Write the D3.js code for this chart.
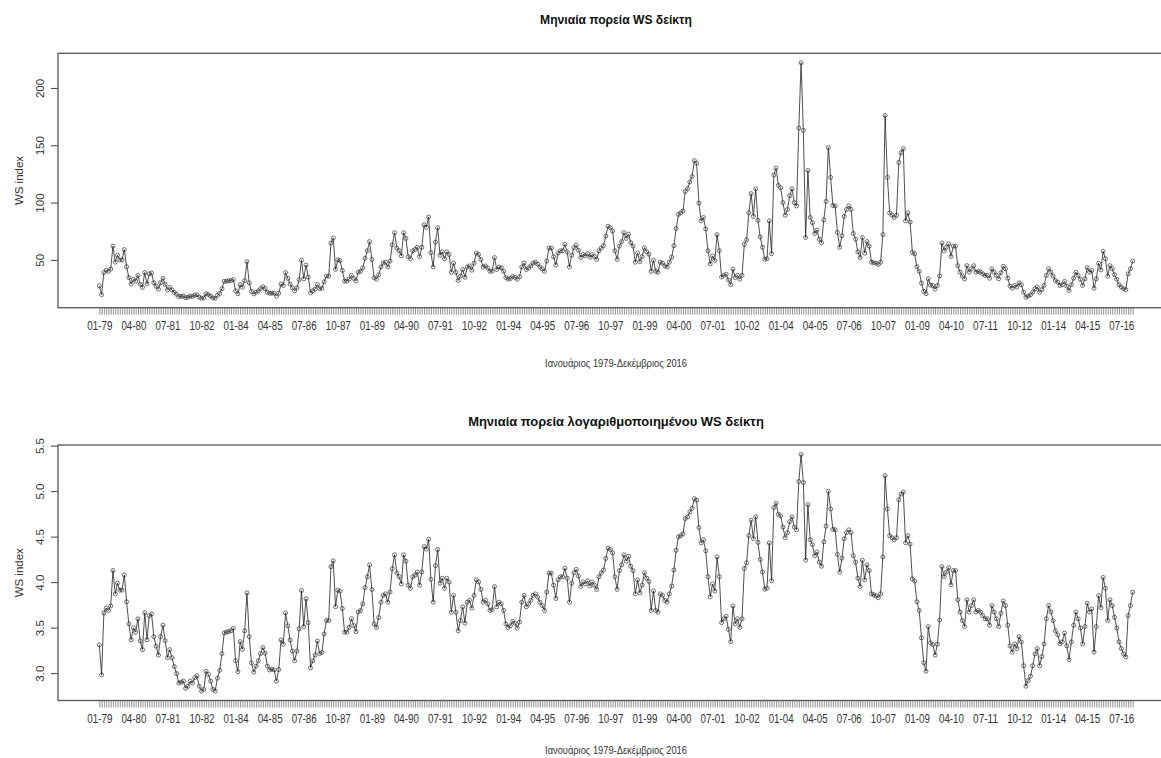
<!DOCTYPE html>
<html>
<head>
<meta charset="utf-8">
<script src="https://cdn.jsdelivr.net/npm/d3@7/dist/d3.min.js"></script>
<style>
  html, body { margin: 0; padding: 0; background: #fff; }
  svg { display: block; }
  text { font-family: "Liberation Sans", Arial, Helvetica, sans-serif; }
</style>
</head>
<body>
<svg id="chart" width="1161" height="758"></svg>
<script>
// Monthly WS index, January 1979 - December 2016 (one array per year)
const ws1979 = [27.4, 19.7, 39, 41, 40, 42, 62, 48, 54, 50, 50, 59];
const ws1980 = [44, 34.5, 29, 33, 31.5, 36.5, 28.6, 26, 39, 29, 37.8, 38.5];
const ws1981 = [30, 27, 24.5, 30, 34, 28.7, 23.8, 26, 23.8, 21.6, 20, 18];
const ws1982 = [18.2, 18.4, 17, 17.4, 18.4, 18, 19.1, 19.5, 17.4, 16.5, 16.8, 20.5];
const ws1983 = [19.8, 18.4, 16.8, 16.5, 19, 20.7, 24.9, 31.3, 31.5, 31.7, 32, 32.9];
const ws1984 = [23, 20.4, 28.4, 26.1, 32, 48.5, 30, 22.5, 20.3, 21.7, 23, 24.9];
const ws1985 = [26.6, 25, 21.7, 20.8, 21, 20.8, 18.4, 20.9, 28.9, 27.6, 38.9, 33.8];
const ws1986 = [28.9, 25.6, 23, 25.6, 32.7, 49.8, 33.5, 45.5, 35, 21.3, 23, 24.5];
const ws1987 = [28.6, 24.9, 25.2, 30.9, 35.8, 35.8, 64.7, 69, 41.7, 50, 49.4, 40.8];
const ws1988 = [31.5, 31.5, 33.2, 36.5, 33.9, 31.7, 39.3, 40, 43, 51.4, 57.9, 66];
const ws1989 = [50.4, 34.5, 33.2, 37, 43.8, 47.2, 48, 43.8, 49, 63.3, 73.7, 60.3];
const ws1990 = [58, 53.5, 73.7, 68.7, 52.8, 51, 57.9, 59, 61, 52.8, 61, 80.6];
const ws1991 = [78.5, 87.4, 56.3, 43.8, 65.5, 78.1, 54, 57, 51, 57, 54.7, 39.2];
const ws1992 = [47.2, 39.2, 32, 35.8, 41.6, 34.8, 43.8, 44.7, 41, 47.2, 56, 54.7];
const ws1993 = [50.4, 43.8, 44.7, 43, 40, 40.3, 52, 41.6, 43.8, 43, 40, 34.5];
const ws1994 = [33.2, 33.8, 35.5, 34.8, 33, 35.2, 43.8, 47.2, 41.6, 43, 44.7, 47.2];
const ws1995 = [48, 46.3, 43.8, 42.2, 40, 49, 60.3, 60.3, 52.8, 45.6, 56, 57.9];
const ws1996 = [57.9, 63.6, 57, 43.8, 54, 60.6, 62.8, 58.4, 52, 54.7, 53.5, 55.4];
const ws1997 = [52.3, 54.7, 52.8, 50.4, 57.9, 60.3, 62.4, 70.8, 79.4, 78.1, 75.3, 57.9];
const ws1998 = [50.4, 62, 66, 73.7, 68.7, 72.5, 65, 62, 48, 56, 48.5, 52.8];
const ws1999 = [60.6, 57, 55, 40, 49.6, 40, 39.2, 48, 47.2, 44.7, 43.8, 48];
const ws2000 = [52.3, 62.4, 77.4, 89.7, 91, 92.7, 109.7, 112, 118, 122.7, 136.6, 134.3];
const ws2001 = [99.5, 84, 87, 77, 58, 46.5, 53.5, 49.5, 72, 58, 35, 36.5];
const ws2002 = [37.5, 32.5, 28.4, 42, 34.5, 36.5, 33.2, 36.5, 63.5, 67.5, 91, 107.8];
const ws2003 = [88, 112, 84.5, 70, 61, 50.5, 51, 84, 55.5, 124, 130, 115];
const ws2004 = [113, 100, 89, 94, 106, 112, 100, 97, 165, 222, 163, 69.5];
const ws2005 = [128, 87, 82.5, 73, 76, 68, 65, 85, 101, 148, 122, 97.5];
const ws2006 = [97, 74, 61, 71, 88, 94, 97, 94, 73, 68, 57, 52];
const ws2007 = [69.5, 56, 66, 62, 48, 47.5, 47, 46, 48, 72, 176, 122];
const ws2008 = [91, 89, 87, 89, 135, 143.5, 147, 84, 91, 83, 56.5, 55.3];
const ws2009 = [44, 40, 29.6, 22.5, 20.5, 33.5, 28, 27.5, 24.5, 27.6, 36, 64.8];
const ws2010 = [58, 61, 64, 53, 62, 62, 45, 39.3, 35.8, 33.5, 45, 39.3];
const ws2011 = [42.2, 45, 39.3, 40, 39.3, 37.8, 36.5, 36.5, 34, 42.2, 39.3, 36.5];
const ws2012 = [33.5, 38.8, 44.4, 42.2, 34, 27.1, 25.3, 27.7, 26.3, 30, 28.3, 21.8];
const ws2013 = [17.4, 18.5, 19.4, 21.8, 24.8, 26.3, 21.8, 24.1, 27.7, 36.5, 42.2, 39.3];
const ws2014 = [35.8, 32, 30.6, 27.7, 28.3, 31.2, 27.1, 23.3, 28.3, 34, 39.3, 36.5];
const ws2015 = [33, 27.7, 33.5, 43.3, 39.3, 40.7, 25.3, 33.5, 47.1, 41.3, 57.5, 51];
const ws2016 = [35.8, 45, 42.2, 37.1, 33, 28.3, 26.3, 24.8, 24, 37.8, 42.2, 48.9];

const wsMonthly = [].concat(
  ws1979, ws1980, ws1981, ws1982, ws1983, ws1984, ws1985, ws1986, ws1987, ws1988,
  ws1989, ws1990, ws1991, ws1992, ws1993, ws1994, ws1995, ws1996, ws1997, ws1998,
  ws1999, ws2000, ws2001, ws2002, ws2003, ws2004, ws2005, ws2006, ws2007, ws2008,
  ws2009, ws2010, ws2011, ws2012, ws2013, ws2014, ws2015, ws2016
);
const wsLog = wsMonthly.map(v => Math.log(v));

// x-axis labels, one every 15 months starting with January 1979
const monthLabels = ["01-79","04-80","07-81","10-82","01-84","04-85","07-86","10-87",
  "01-89","04-90","07-91","10-92","01-94","04-95","07-96","10-97","01-99","04-00",
  "07-01","10-02","01-04","04-05","07-06","10-07","01-09","04-10","07-11","10-12",
  "01-14","04-15","07-16"];
const labelStep = 15;

const levelTicks = [50, 100, 150, 200];
const logTicks = [3.0, 3.5, 4.0, 4.5, 5.0, 5.5];

const titleLevel = "Μηνιαία πορεία WS δείκτη";
const titleLog = "Μηνιαία πορεία λογαριθμοποιημένου WS δείκτη";
const xTitle = "Ιανουάριος 1979-Δεκέμβριος 2016";
const yTitle = "WS index";

// ---------------------------------------------------------------
const svg = d3.select("#chart");
const plotLeft = 58, plotRight = 1174;
const ink = "#333";

// base-graphics style range: data extent padded by 4% on each side
function padded(ext) {
  const p = 0.04 * (ext[1] - ext[0]);
  return [ext[0] - p, ext[1] + p];
}

const n = wsMonthly.length;
const x = d3.scaleLinear().domain(padded([0, n - 1])).range([plotLeft, plotRight]);

// squeeze a text element horizontally so it spans the wanted width
function fitWidth(sel, width) {
  sel.each(function () {
    const len = this.getComputedTextLength();
    const k = width / len;
    const tx = +this.getAttribute("x") || 0;
    d3.select(this).attr("transform", `translate(${tx * (1 - k)},0) scale(${k},1)`);
  });
}

function drawPanel(cfg) {
  const g = svg.append("g");
  const y = d3.scaleLinear().domain(padded(d3.extent(cfg.values)))
    .range([cfg.bottom, cfg.top]);

  // title
  const t = g.append("text")
    .attr("x", (plotLeft + plotRight) / 2).attr("y", cfg.titleY)
    .attr("text-anchor", "middle").attr("font-weight", "bold")
    .attr("font-size", 13).attr("fill", "#111").text(cfg.title);
  fitWidth(t, cfg.titleWidth);

  // x axis: a tick for every month, labels every 15 months
  const xAxis = d3.axisBottom(x)
    .tickValues(d3.range(n))
    .tickSize(7)
    .tickPadding(5)
    .tickFormat(i => (i % labelStep === 0 ? monthLabels[i / labelStep] : ""));
  const gx = g.append("g").attr("transform", `translate(0,${cfg.bottom})`).call(xAxis);
  gx.select(".domain").remove();
  gx.selectAll(".tick line").attr("stroke", "#444").attr("stroke-width", 0.6);
  gx.selectAll(".tick text")
    .attr("font-size", 12).attr("fill", ink)
    .attr("font-family", '"Liberation Sans", Arial, sans-serif')
    .attr("dy", "0.9em");
  gx.selectAll(".tick text").filter(function () { return this.textContent !== ""; })
    .each(function () { fitWidth(d3.select(this), 25); });

  // y axis with labels parallel to the axis
  const yAxis = d3.axisLeft(y).tickValues(cfg.ticks).tickSize(7).tickFormat(cfg.fmt);
  const gy = g.append("g").attr("transform", `translate(${plotLeft},0)`).call(yAxis);
  gy.select(".domain").remove();
  gy.selectAll(".tick line").attr("stroke", "#444");
  gy.selectAll(".tick text")
    .attr("font-size", 11.5).attr("fill", ink)
    .attr("font-family", '"Liberation Sans", Arial, sans-serif')
    .attr("transform", "rotate(-90)")
    .attr("x", 0).attr("y", -14).attr("dy", 0)
    .attr("text-anchor", "middle");

  // axis titles
  const xt = g.append("text")
    .attr("x", (plotLeft + plotRight) / 2).attr("y", cfg.xTitleY)
    .attr("text-anchor", "middle").attr("font-size", 11.5).attr("fill", ink)
    .text(xTitle);
  fitWidth(xt, 142);
  g.append("text")
    .attr("transform", `translate(23,${(cfg.top + cfg.bottom) / 2}) rotate(-90)`)
    .attr("text-anchor", "middle").attr("font-size", 11.5).attr("fill", ink)
    .text(yTitle);

  // frame
  g.append("rect")
    .attr("x", plotLeft).attr("y", cfg.top)
    .attr("width", plotRight - plotLeft).attr("height", cfg.bottom - cfg.top)
    .attr("fill", "none").attr("stroke", "#555").attr("stroke-width", 1.3);

  // series: line with open circles over it
  const line = d3.line().x((d, i) => x(i)).y(d => y(d));
  g.append("path").datum(cfg.values)
    .attr("d", line).attr("fill", "none")
    .attr("stroke", "#222").attr("stroke-width", 0.8);
  g.append("g").selectAll("circle").data(cfg.values).join("circle")
    .attr("cx", (d, i) => x(i)).attr("cy", d => y(d)).attr("r", 2)
    .attr("fill", "none").attr("stroke", "#333").attr("stroke-width", 0.7);
}

drawPanel({
  values: wsMonthly, top: 53.3, bottom: 307.7, ticks: levelTicks,
  fmt: d3.format("d"), title: titleLevel, titleY: 24, titleWidth: 152, xTitleY: 367
});
drawPanel({
  values: wsLog, top: 445, bottom: 700.5, ticks: logTicks,
  fmt: d3.format(".1f"), title: titleLog, titleY: 426, titleWidth: 296, xTitleY: 754
});
</script>
</body>
</html>
